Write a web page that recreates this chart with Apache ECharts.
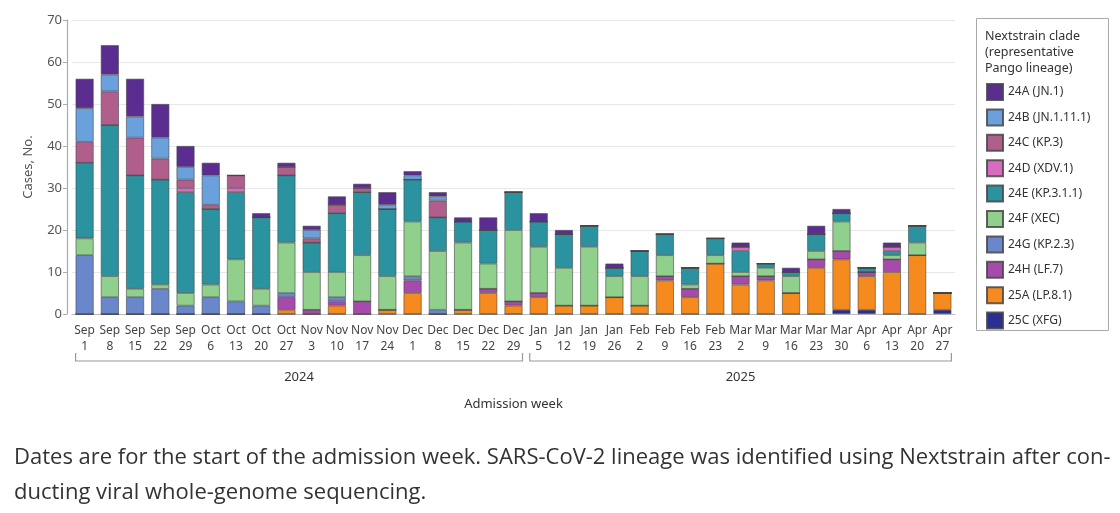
<!DOCTYPE html>
<html>
<head>
<meta charset="utf-8">
<script src="https://cdn.jsdelivr.net/npm/echarts@6/dist/echarts.min.js"></script>
<style>
html,body{margin:0;padding:0;background:#fff;}
#c{width:1120px;height:513px;}
</style>
</head>
<body>
<div id="c"></div>
<script>
var weeks = ['Sep 1','Sep 8','Sep 15','Sep 22','Sep 29','Oct 6','Oct 13','Oct 20','Oct 27','Nov 3','Nov 10','Nov 17','Nov 24','Dec 1','Dec 8','Dec 15','Dec 22','Dec 29',
             'Jan 5','Jan 12','Jan 19','Jan 26','Feb 2','Feb 9','Feb 16','Feb 23','Mar 2','Mar 9','Mar 16','Mar 23','Mar 30','Apr 6','Apr 13','Apr 20','Apr 27'];
var years = [{label:'2024', first:'Sep 1', last:'Dec 29'}, {label:'2025', first:'Jan 5', last:'Apr 27'}];
var yTicks = {min:0, max:70, interval:10};

var c25C = [0,0,0,0,0,0,0,0,0,0,0,0,0,0,0,0,0,0, 0,0,0,0,0,0,0,0,0,0,0,0,1,1,0,0,1];
var c25A = [0,0,0,0,0,0,0,0,1,0,2,0,1,5,0,1,5,2, 4,2,2,4,2,8,4,12,7,8,5,11,12,8,10,14,4];
var c24H = [0,0,0,0,0,0,0,0,3,1,1,3,0,3,0,0,1,1, 1,0,0,0,0,1,2,0,2,1,0,2,2,1,3,0,0];
var c24G = [14,4,4,6,2,4,3,2,1,0,1,0,0,1,1,0,0,0, 0,0,0,0,0,0,0,0,0,0,0,0,0,0,0,0,0];
var c24F = [4,5,2,1,3,3,10,4,12,9,6,11,8,13,14,16,6,17, 11,9,14,5,7,5,1,2,1,2,4,2,7,0,1,3,0];
var c24E = [18,36,27,25,24,18,16,17,16,7,14,15,16,10,8,5,8,9, 6,8,5,2,6,5,4,4,5,1,1,4,2,1,1,4,0];
var c24D = [0,0,0,0,1,0,1,0,0,0,0,0,0,0,0,0,0,0, 0,0,0,0,0,0,0,0,1,0,0,0,0,0,1,0,0];
var c24C = [5,8,9,5,2,1,3,0,2,1,2,1,0,0,4,0,0,0, 0,0,0,0,0,0,0,0,0,0,0,0,0,0,0,0,0];
var c24B = [8,4,5,5,3,7,0,0,0,2,0,0,1,1,1,0,0,0, 0,0,0,0,0,0,0,0,0,0,0,0,0,0,0,0,0];
var c24A = [7,7,9,8,5,3,0,1,1,1,2,1,3,1,1,1,3,0, 2,1,0,1,0,0,0,0,1,0,1,2,1,0,1,0,0];

// stacking order, bottom to top
var clades = [
  {name:'25C (XFG)',       data:c25C, color:'#2b2f8f'},
  {name:'25A (LP.8.1)',    data:c25A, color:'#f58a1f'},
  {name:'24H (LF.7)',      data:c24H, color:'#a64aab'},
  {name:'24G (KP.2.3)',    data:c24G, color:'#6b87cc'},
  {name:'24F (XEC)',       data:c24F, color:'#90d08c'},
  {name:'24E (KP.3.1.1)',  data:c24E, color:'#2b939f'},
  {name:'24D (XDV.1)',     data:c24D, color:'#d66bbf'},
  {name:'24C (KP.3)',      data:c24C, color:'#b05f8c'},
  {name:'24B (JN.1.11.1)', data:c24B, color:'#6aa0dc'},
  {name:'24A (JN.1)',      data:c24A, color:'#5c2d91'}
];
var legendOrder = clades.map(function(d){return d.name;}).reverse();

var FONT = "'Liberation Sans Narrow','Noto Sans',sans-serif";
var chart = echarts.init(document.getElementById('c'), null, {renderer:'canvas'});
var BAR_W = 18;

var option = {
  animation:false,
  backgroundColor:'#fff',
  textStyle:{fontFamily:FONT},
  grid:{left:72, right:165, top:20, bottom:199, containLabel:false},
  legend:{
    data:legendOrder, orient:'vertical', left:981, top:78,
    itemWidth:16, itemHeight:16, itemGap:7.4,
    icon:'rect',
    textStyle:{fontSize:12, color:'#333', fontFamily:FONT, lineHeight:16, height:16},
    selectedMode:false
  },
  xAxis:{
    type:'category', data:weeks,
    axisLine:{show:true, lineStyle:{color:'#bbb', width:1}},
    axisTick:{show:false},
    axisLabel:{interval:0, color:'#444', fontSize:12, lineHeight:16, margin:9,
      formatter:function(v){return v.replace(' ','\n');}},
    name:'Admission week', nameLocation:'middle', nameGap:84,
    nameTextStyle:{fontSize:13, color:'#333'}
  },
  yAxis:{
    type:'value', min:yTicks.min, max:yTicks.max, interval:yTicks.interval,
    offset:5,
    axisLine:{show:true, lineStyle:{color:'#aaa', width:1.2}},
    axisTick:{show:true, length:4, lineStyle:{color:'#aaa'}},
    axisLabel:{color:'#555', fontSize:13, margin:5},
    splitLine:{lineStyle:{color:'#e8e8e8', width:1}},
    name:'Cases, No.', nameLocation:'middle', nameGap:32,
    nameTextStyle:{fontSize:13, color:'#555'}
  },
  series: clades.map(function(cl){
    return {
      name:cl.name, type:'bar', stack:'total', barWidth:BAR_W,
      data:cl.data,
      itemStyle:{color:cl.color, borderColor:'rgba(70,70,70,0.85)', borderWidth:0.7},
      emphasis:{disabled:true}
    };
  })
};
chart.setOption(option);

// brackets, year labels, legend box, caption
var g = [];
var baseY = 361, tickTop = 353;
years.forEach(function(y){
  var x1 = chart.convertToPixel({xAxisIndex:0}, y.first) - BAR_W/2;
  var x2 = chart.convertToPixel({xAxisIndex:0}, y.last) + BAR_W/2;
  g.push({type:'polyline', silent:true, shape:{points:[[x1,tickTop],[x1,baseY],[x2,baseY],[x2,tickTop]]},
          style:{stroke:'#999', lineWidth:1.2, fill:null}});
  g.push({type:'text', silent:true, x:(x1+x2)/2, y:377,
          style:{text:y.label, fontSize:13, fill:'#333', align:'center', verticalAlign:'middle', fontFamily:FONT}});
});
g.push({type:'rect', silent:true, shape:{x:976.5, y:18.5, width:132, height:312},
        style:{stroke:'#aaa', lineWidth:1, fill:null}});
g.push({type:'text', silent:true, x:985, y:28,
        style:{text:'Nextstrain clade\n(representative\nPango lineage)', fontSize:12.5, lineHeight:16, fill:'#333', fontFamily:FONT}});
var CAP_FONT = "'Open Sans','Noto Sans',sans-serif";
g.push({type:'text', silent:true, x:14, y:458,
        style:{text:'Dates are for the start of the admission week. SARS-CoV-2 lineage was identified using Nextstrain after con-', fontSize:22, fill:'#333', verticalAlign:'middle', fontFamily:CAP_FONT}});
g.push({type:'text', silent:true, x:14, y:493,
        style:{text:'ducting viral whole-genome sequencing.', fontSize:22, fill:'#333', verticalAlign:'middle', fontFamily:CAP_FONT}});
chart.setOption({graphic:g});
</script>
</body>
</html>
